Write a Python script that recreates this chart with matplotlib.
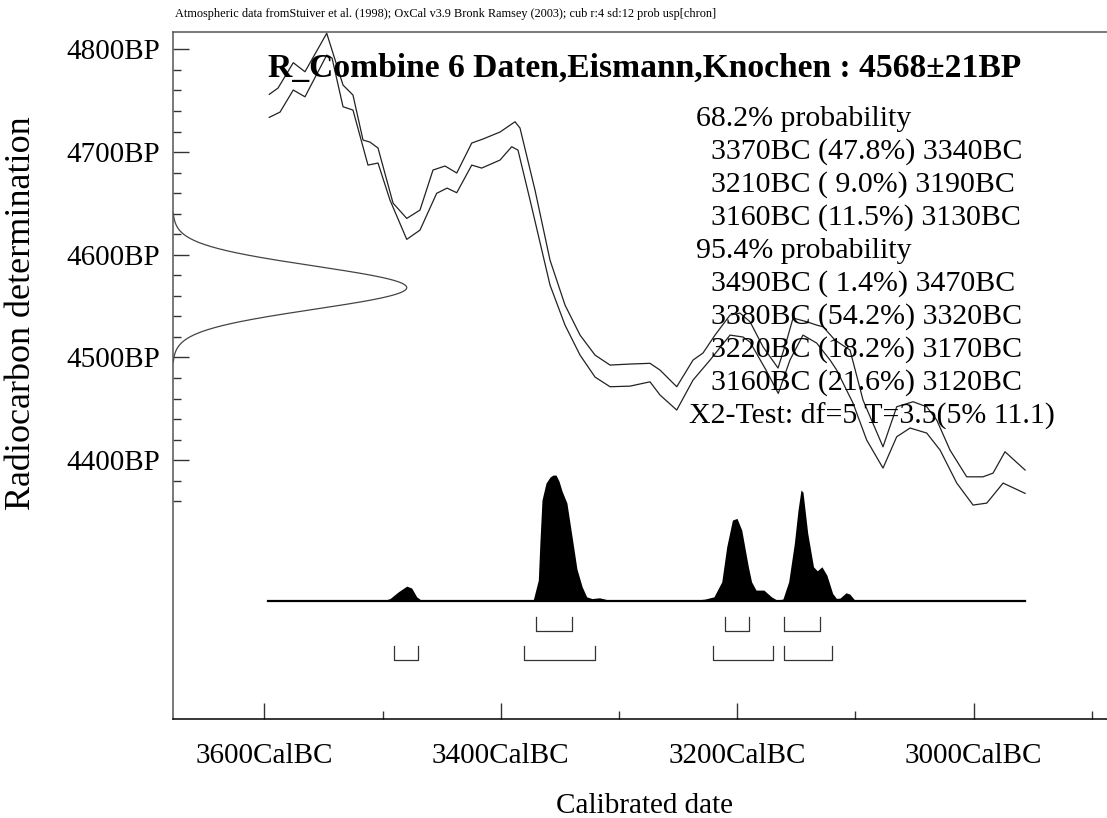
import matplotlib
matplotlib.use("Agg")
import matplotlib.pyplot as plt
import numpy as np
from matplotlib.ticker import FixedLocator

SERIF = ["Liberation Serif", "DejaVu Serif"]

# ---------------- data ----------------
# calibration curve band (calendar years BC, radiocarbon BP)
upper_bc = [3595.8, 3588.4, 3575.5, 3565.6, 3547.2, 3533.4, 3525.0, 3516.5, 3510.6, 3503.8,
            3491.1, 3479.5, 3468.3, 3457.3, 3447.1, 3437.2, 3424.5, 3415.0, 3400.6, 3387.9,
            3383.7, 3371.0, 3358.3, 3345.6, 3332.9, 3320.2, 3307.5, 3290.6, 3273.7, 3265.2,
            3251.1, 3237.3, 3228.9, 3218.7, 3206.0, 3197.6, 3189.1, 3178.1, 3165.4, 3158.0,
            3152.7, 3141.1, 3132.7, 3127.3, 3117.2, 3104.5, 3093.5, 3076.6, 3065.0, 3051.2,
            3039.6, 3031.1, 3019.9, 3005.8, 2992.0, 2983.5, 2973.4, 2956.4]
upper_bp = [4756.2, 4762.3, 4787.0, 4778.2, 4815.6, 4765.2, 4755.5, 4711.7, 4709.7, 4703.9,
            4650.3, 4635.4, 4643.5, 4682.5, 4686.4, 4679.6, 4708.8, 4712.7, 4719.5, 4729.5,
            4723.4, 4663.0, 4594.8, 4551.0, 4521.8, 4502.3, 4492.6, 4493.6, 4494.3, 4487.7,
            4471.5, 4497.5, 4504.3, 4521.8, 4541.3, 4543.2, 4534.8, 4510.4, 4489.7, 4516.9,
            4538.4, 4534.8, 4531.5, 4529.9, 4516.9, 4507.2, 4458.5, 4413.0, 4452.0, 4456.9,
            4452.0, 4439.0, 4409.8, 4383.8, 4383.8, 4387.4, 4408.2, 4390.4]
lower_bc = [3595.8, 3586.7, 3575.5, 3565.6, 3547.2, 3542.7, 3533.4, 3525.0, 3512.3, 3503.8,
            3493.7, 3479.5, 3468.3, 3454.2, 3445.4, 3437.2, 3424.5, 3416.1, 3400.6, 3390.7,
            3385.4, 3375.2, 3358.3, 3345.6, 3332.9, 3320.2, 3307.5, 3290.6, 3273.7, 3265.2,
            3251.1, 3237.3, 3222.9, 3206.0, 3195.0, 3189.1, 3175.6, 3165.2, 3155.3, 3144.3,
            3132.7, 3121.4, 3115.8, 3102.0, 3090.4, 3076.6, 3065.0, 3053.7, 3039.6, 3028.3,
            3014.2, 3000.4, 2988.8, 2975.0, 2956.4]
lower_bp = [4733.8, 4738.9, 4760.4, 4753.8, 4794.4, 4791.5, 4744.1, 4740.9, 4687.3, 4689.3,
            4653.3, 4615.0, 4624.0, 4659.8, 4664.9, 4660.4, 4687.3, 4684.4, 4692.2, 4705.2,
            4701.9, 4653.3, 4570.5, 4531.5, 4502.3, 4480.9, 4471.5, 4472.1, 4476.3, 4463.4,
            4448.8, 4478.0, 4497.5, 4521.8, 4519.9, 4515.0, 4487.8, 4465.0, 4497.5, 4521.8,
            4514.0, 4497.5, 4487.8, 4455.6, 4419.6, 4392.3, 4422.8, 4431.3, 4426.4, 4409.8,
            4377.7, 4356.3, 4358.2, 4377.7, 4367.7]

# calibrated probability distribution (years BC, relative probability)
prob_bc = [3596.9, 3499.3, 3493.7, 3486.6, 3479.5, 3475.3, 3471.1, 3466.8, 3440.0, 3400.6,
           3374.7, 3372.4, 3368.2, 3366.8, 3365.1, 3361.7, 3358.3, 3355.8, 3353.2, 3350.7,
           3348.1, 3344.0, 3339.2, 3335.5, 3331.1, 3327.3, 3322.8, 3316.5, 3311.8, 3307.5,
           3239.0, 3227.2, 3219.6, 3213.0, 3208.8, 3204.0, 3200.1, 3196.1, 3190.5, 3187.8,
           3184.0, 3177.4, 3171.0, 3166.3, 3161.3, 3156.4, 3151.6, 3148.5, 3146.0, 3144.3,
           3140.3, 3135.4, 3132.2, 3128.3, 3124.1, 3119.2, 3116.0, 3113.0, 3107.9, 3104.7,
           3100.5, 2956.5]
prob_val = [0.0, 0.5, 2.5, 9.3, 15.0, 13.0, 4.3, 0.5, 0.3, 0.3,
            0.7, 1.5, 21.0, 60.0, 101.0, 118.0, 124.0, 126.0, 126.0, 120.0,
            110.0, 98.0, 61.0, 32.0, 14.3, 4.3, 2.5, 3.3, 2.0, 0.5,
            0.5, 2.0, 4.3, 19.3, 54.3, 81.0, 82.7, 71.0, 34.3, 19.3,
            11.0, 11.0, 4.3, 1.0, 2.0, 19.3, 57.7, 91.0, 111.0, 109.0,
            68.0, 34.3, 30.3, 34.3, 26.0, 7.7, 2.7, 3.0, 8.3, 7.0,
            1.0, 0.0]

# highest posterior density ranges (BC)
ranges_68 = [(3370, 3340), (3210, 3190), (3160, 3130)]
ranges_95 = [(3490, 3470), (3380, 3320), (3220, 3170), (3160, 3120)]

# radiocarbon measurement
c14_mean = 4568
c14_sd = 21

x_major = [3600, 3400, 3200, 3000]
x_minor = [3500, 3300, 3100, 2900]
x_labels = ["3600CalBC", "3400CalBC", "3200CalBC", "3000CalBC"]
y_major = [4400, 4500, 4600, 4700, 4800]
y_minor = [v for v in range(4360, 4801, 20) if v % 100 != 0]
y_labels = ["4400BP", "4500BP", "4600BP", "4700BP", "4800BP"]

text_lines = ["68.2% probability",
              "3370BC (47.8%) 3340BC",
              "3210BC ( 9.0%) 3190BC",
              "3160BC (11.5%) 3130BC",
              "95.4% probability",
              "3490BC ( 1.4%) 3470BC",
              "3380BC (54.2%) 3320BC",
              "3220BC (18.2%) 3170BC",
              "3160BC (21.6%) 3120BC",
              "X2-Test: df=5 T=3.5(5% 11.1)"]

title = "R_Combine 6 Daten,Eismann,Knochen : 4568\u00b121BP"
header = ("Atmospheric data fromStuiver et al. (1998); OxCal v3.9 Bronk Ramsey (2003); "
          "cub r:4 sd:12 prob usp[chron]")

# ---------------- layout ----------------
W, H = 1107, 818
fig = plt.figure(figsize=(W / 100, H / 100), dpi=100)
ax_l, ax_r, ax_t, ax_b = 172.7, 1107.0, 32.3, 719.0
ax = fig.add_axes([ax_l / W, 1 - ax_b / H, (ax_r - ax_l) / W, (ax_b - ax_t) / H])
XL, XR = 3677.5, 2887.1
ax.set_xlim(XL, XR)
ax.set_ylim(4148.0, 4816.6)

line_col = "#222222"
ax.plot(upper_bc, upper_bp, color=line_col, lw=0.9)
ax.plot(lower_bc, lower_bp, color=line_col, lw=0.9)

# measurement distribution on y axis
yy = np.linspace(c14_mean - 3.45 * c14_sd, c14_mean + 3.45 * c14_sd, 300)
g = np.exp(-0.5 * ((yy - c14_mean) / c14_sd) ** 2)
ax.plot(XL - 198.0 * g, yy, color="#444444", lw=0.9)

# probability distribution
base = 4262.8
scale = 1 / 1.027
pb = np.array(prob_bc)
pv = np.array(prob_val)
ax.fill_between(pb, base, base + pv * scale, color="black", lw=0)
ax.plot([prob_bc[0], prob_bc[-1]], [base, base], color="black", lw=1.6)

# range brackets
def bracket(rs, ytop, ybot):
    for s, e in rs:
        ax.plot([s, s, e, e], [ytop, ybot, ybot, ytop], color="#333333", lw=0.9)

bracket(ranges_68, 4247.5, 4233.9)
bracket(ranges_95, 4219.0, 4205.4)

# spines
ax.spines["right"].set_visible(False)
ax.spines["top"].set_color("#555555")
ax.spines["left"].set_color("#555555")
ax.spines["bottom"].set_color("black")
for s in ax.spines.values():
    s.set_linewidth(1.1)

ax.xaxis.set_major_locator(FixedLocator(x_major))
ax.xaxis.set_minor_locator(FixedLocator(x_minor))
ax.set_xticklabels(x_labels)
ax.yaxis.set_major_locator(FixedLocator(y_major))
ax.yaxis.set_minor_locator(FixedLocator(y_minor))
ax.set_yticklabels(y_labels)
ax.tick_params(axis="both", which="major", direction="in", length=11.5, width=1.0,
               color="#333333", labelsize=21)
ax.tick_params(axis="both", which="minor", direction="in", length=5.8, width=1.0,
               color="#333333")
ax.tick_params(axis="x", which="major", pad=17.3)
ax.tick_params(axis="y", which="major", pad=9)
for lab in ax.get_xticklabels() + ax.get_yticklabels():
    lab.set_fontfamily(SERIF)

# texts
fig.text(175 / W, 1 - 14 / H, header, fontsize=8.85, family=SERIF, ha="left", va="center")
fig.text(268 / W, 1 - 77 / H, title, fontsize=24.2, family=SERIF, weight="bold",
         ha="left", va="baseline")
lefts = [696, 711, 711, 711, 696, 711, 711, 711, 711, 689]
for i, (t, lx) in enumerate(zip(text_lines, lefts)):
    fig.text(lx / W, 1 - (119 + 33 * i) / H, t, fontsize=21.5, family=SERIF,
             ha="left", va="center")

fig.text(644 / W, 1 - 813 / H, "Calibrated date", fontsize=21, family=SERIF,
         ha="center", va="baseline")
fig.text(22 / W, 1 - 313 / H, "Radiocarbon determination", fontsize=26, family=SERIF,
         ha="center", va="center", rotation=90)

fig.savefig("out.png", dpi=100)
